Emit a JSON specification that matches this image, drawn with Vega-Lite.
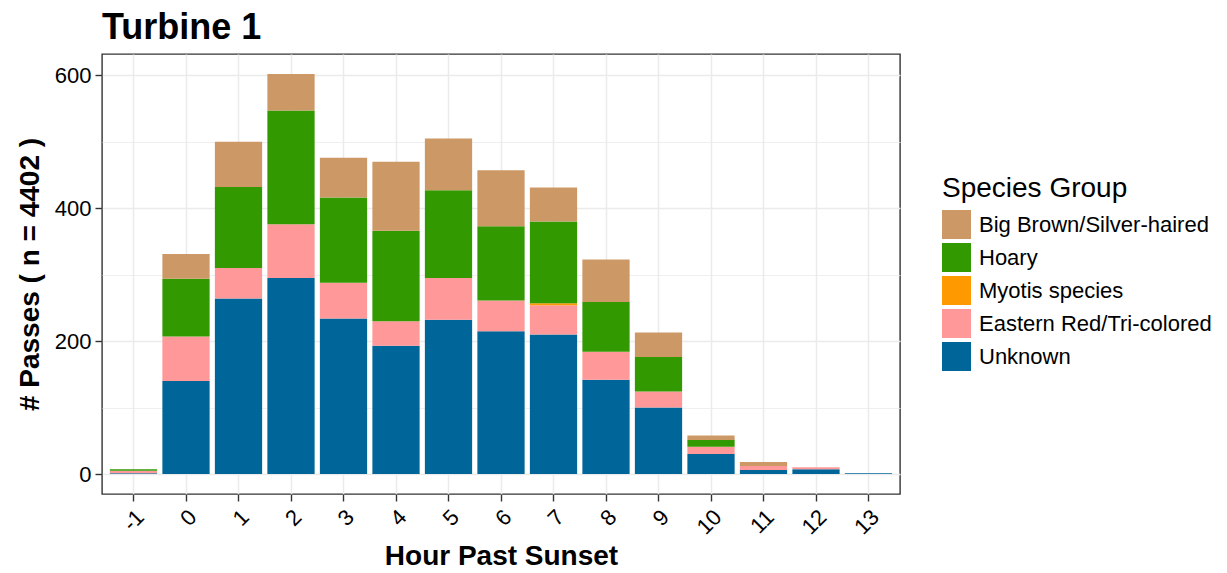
{
  "$schema": "https://vega.github.io/schema/vega-lite/v6.json",
  "width": 798,
  "height": 440,
  "autosize": {"type": "none"},
  "padding": {"left": 102, "top": 54, "right": 327, "bottom": 79},
  "background": "white",
  "config": {
    "font": "Liberation Sans",
    "view": {"stroke": "#333333", "strokeWidth": 1.4},
    "axis": {"domain": false}
  },
  "title": {
    "text": "Turbine 1",
    "anchor": "start",
    "frame": "group",
    "fontSize": 36,
    "fontWeight": "bold",
    "color": "black",
    "font": "Liberation Sans",
    "baseline": "alphabetic",
    "offset": 16,
    "dy": 37
  },
  "data": {
    "values": [
      {"hour": -1, "species": "Unknown", "passes": 1},
      {"hour": -1, "species": "Eastern Red/Tri-colored", "passes": 4},
      {"hour": -1, "species": "Hoary", "passes": 2},
      {"hour": 0, "species": "Unknown", "passes": 140},
      {"hour": 0, "species": "Eastern Red/Tri-colored", "passes": 67},
      {"hour": 0, "species": "Hoary", "passes": 87},
      {"hour": 0, "species": "Big Brown/Silver-haired", "passes": 37},
      {"hour": 1, "species": "Unknown", "passes": 264},
      {"hour": 1, "species": "Eastern Red/Tri-colored", "passes": 46},
      {"hour": 1, "species": "Hoary", "passes": 122},
      {"hour": 1, "species": "Big Brown/Silver-haired", "passes": 68},
      {"hour": 2, "species": "Unknown", "passes": 295},
      {"hour": 2, "species": "Eastern Red/Tri-colored", "passes": 81},
      {"hour": 2, "species": "Hoary", "passes": 171},
      {"hour": 2, "species": "Big Brown/Silver-haired", "passes": 55},
      {"hour": 3, "species": "Unknown", "passes": 234},
      {"hour": 3, "species": "Eastern Red/Tri-colored", "passes": 54},
      {"hour": 3, "species": "Hoary", "passes": 128},
      {"hour": 3, "species": "Big Brown/Silver-haired", "passes": 60},
      {"hour": 4, "species": "Unknown", "passes": 193},
      {"hour": 4, "species": "Eastern Red/Tri-colored", "passes": 37},
      {"hour": 4, "species": "Hoary", "passes": 136},
      {"hour": 4, "species": "Big Brown/Silver-haired", "passes": 104},
      {"hour": 5, "species": "Unknown", "passes": 232},
      {"hour": 5, "species": "Eastern Red/Tri-colored", "passes": 63},
      {"hour": 5, "species": "Hoary", "passes": 132},
      {"hour": 5, "species": "Big Brown/Silver-haired", "passes": 78},
      {"hour": 6, "species": "Unknown", "passes": 215},
      {"hour": 6, "species": "Eastern Red/Tri-colored", "passes": 46},
      {"hour": 6, "species": "Hoary", "passes": 112},
      {"hour": 6, "species": "Big Brown/Silver-haired", "passes": 84},
      {"hour": 7, "species": "Unknown", "passes": 210},
      {"hour": 7, "species": "Eastern Red/Tri-colored", "passes": 44},
      {"hour": 7, "species": "Myotis species", "passes": 3},
      {"hour": 7, "species": "Hoary", "passes": 123},
      {"hour": 7, "species": "Big Brown/Silver-haired", "passes": 51},
      {"hour": 8, "species": "Unknown", "passes": 142},
      {"hour": 8, "species": "Eastern Red/Tri-colored", "passes": 42},
      {"hour": 8, "species": "Hoary", "passes": 75},
      {"hour": 8, "species": "Big Brown/Silver-haired", "passes": 64},
      {"hour": 9, "species": "Unknown", "passes": 100},
      {"hour": 9, "species": "Eastern Red/Tri-colored", "passes": 24},
      {"hour": 9, "species": "Hoary", "passes": 52},
      {"hour": 9, "species": "Big Brown/Silver-haired", "passes": 37},
      {"hour": 10, "species": "Unknown", "passes": 30},
      {"hour": 10, "species": "Eastern Red/Tri-colored", "passes": 11},
      {"hour": 10, "species": "Hoary", "passes": 10},
      {"hour": 10, "species": "Big Brown/Silver-haired", "passes": 7},
      {"hour": 11, "species": "Unknown", "passes": 6},
      {"hour": 11, "species": "Eastern Red/Tri-colored", "passes": 6},
      {"hour": 11, "species": "Big Brown/Silver-haired", "passes": 6},
      {"hour": 12, "species": "Unknown", "passes": 7},
      {"hour": 12, "species": "Eastern Red/Tri-colored", "passes": 3},
      {"hour": 13, "species": "Unknown", "passes": 1}
    ]
  },
  "transform": [
    {"calculate": "indexof(['Unknown', 'Eastern Red/Tri-colored', 'Myotis species', 'Hoary', 'Big Brown/Silver-haired'], datum.species)", "as": "stackOrder"}
  ],
  "mark": {"type": "bar"},
  "encoding": {
    "x": {
      "field": "hour",
      "type": "ordinal",
      "scale": {"paddingInner": 0.1, "paddingOuter": 0.15},
      "axis": {
        "title": "Hour Past Sunset",
        "titleFontSize": 28,
        "titleFontWeight": "bold",
        "titleColor": "black",
        "titlePadding": 4,
        "labelAngle": -45,
        "labelAlign": "right",
        "labelBaseline": "top",
        "labelFontSize": 22,
        "labelColor": "black",
        "labelPadding": 5,
        "tickSize": 7,
        "tickColor": "#333333",
        "tickWidth": 1.4,
        "bandPosition": 0.5,
        "grid": true,
        "gridColor": "#EBEBEB",
        "gridWidth": 1.5
      }
    },
    "y": {
      "field": "passes",
      "type": "quantitative",
      "stack": "zero",
      "scale": {"domain": [-30.1, 632.1], "nice": false, "zero": false},
      "axis": {
        "title": "# Passes ( n = 4402 )",
        "titleFontSize": 28,
        "titleFontWeight": "bold",
        "titleColor": "black",
        "titlePadding": 10,
        "values": [0, 100, 200, 300, 400, 500, 600],
        "labelExpr": "datum.value % 200 === 0 ? datum.label : ''",
        "labelFontSize": 22,
        "labelColor": "black",
        "labelPadding": 4,
        "tickSize": 7,
        "tickColor": "#333333",
        "tickWidth": 1.4,
        "tickOpacity": {"condition": {"test": "datum.value % 200 !== 0", "value": 0}, "value": 1},
        "grid": true,
        "gridColor": "#EBEBEB",
        "gridWidth": {"condition": {"test": "datum.value % 200 !== 0", "value": 0.8}, "value": 1.5}
      }
    },
    "order": {"field": "stackOrder", "type": "quantitative", "sort": "ascending"},
    "color": {
      "field": "species",
      "type": "nominal",
      "scale": {
        "domain": ["Big Brown/Silver-haired", "Hoary", "Myotis species", "Eastern Red/Tri-colored", "Unknown"],
        "range": ["#CC9966", "#339900", "#FF9900", "#FF9999", "#006699"]
      },
      "legend": {
        "title": "Species Group",
        "orient": "none",
        "legendX": 840,
        "legendY": 121,
        "padding": 0,
        "titleFontSize": 28,
        "titleFontWeight": "normal",
        "titleColor": "black",
        "titlePadding": 7,
        "titleLimit": 400,
        "labelFontSize": 22,
        "labelColor": "black",
        "labelOffset": 8,
        "symbolType": "square",
        "symbolSize": 841,
        "symbolStrokeWidth": 0,
        "symbolOpacity": 1,
        "rowPadding": 4,
        "labelLimit": 400
      }
    }
  }
}
